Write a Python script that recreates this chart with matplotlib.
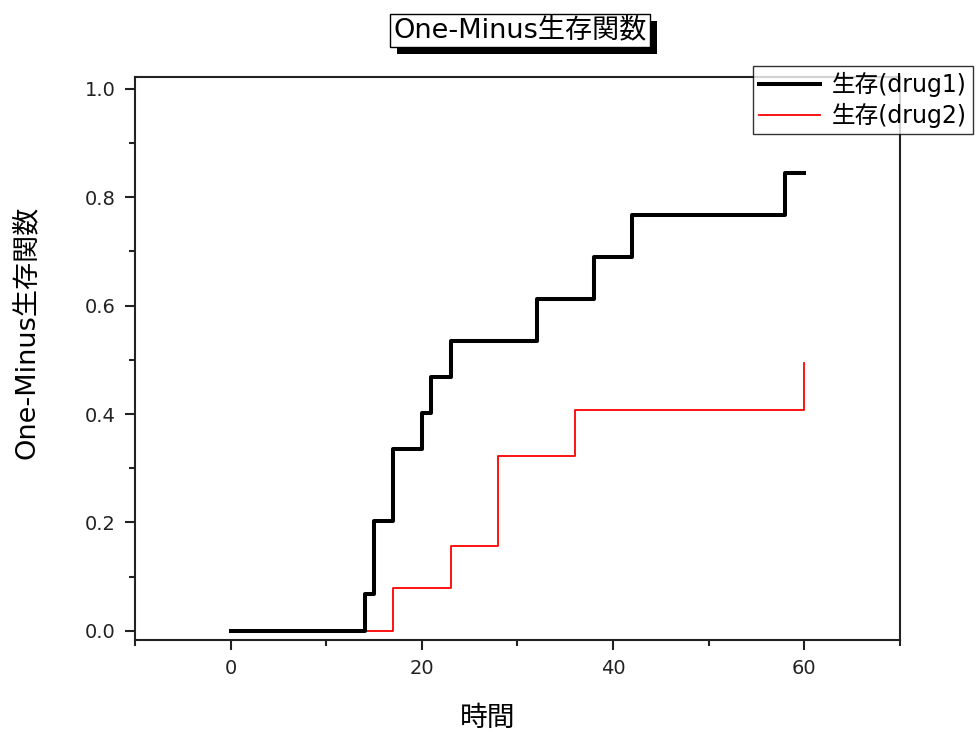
import matplotlib
matplotlib.use("Agg")
import matplotlib.pyplot as plt
import matplotlib.patheffects as pe
from matplotlib import font_manager as fm
from matplotlib.ticker import MultipleLocator

# data
t1 = [0, 14, 15, 17, 20, 21, 23, 32, 38, 42, 58, 60]
s1 = [0.0, 0.068, 0.202, 0.335, 0.402, 0.468, 0.535, 0.612, 0.690, 0.767, 0.845, 0.845]
t2 = [0, 17, 23, 28, 36, 60]
s2 = [0.0, 0.079, 0.156, 0.323, 0.407, 0.494]
labels = ["生存(drug1)", "生存(drug2)"]
title = "One-Minus生存関数"
xlab = "時間"

jp = ["DejaVu Sans", "Noto Sans CJK JP"]
installed = {f.name for f in fm.fontManager.ttflist}
if "Liberation Sans Narrow" in installed:
    tickfont, ticksize = "Liberation Sans Narrow", 16
else:
    tickfont, ticksize = "DejaVu Sans", 14

fig = plt.figure(figsize=(9.79, 7.32), dpi=100)
ax = fig.add_axes([0.1379, 0.1257, 0.7814, 0.7691])

l2, = ax.plot(t2, s2, drawstyle="steps-post", color="red", lw=1.3, zorder=2)
l1, = ax.plot(t1, s1, drawstyle="steps-post", color="black", lw=2.9, zorder=3)

ax.set_xlim(-10, 70)
ax.set_ylim(-0.017, 1.022)
ax.xaxis.set_major_locator(MultipleLocator(20))
ax.xaxis.set_minor_locator(MultipleLocator(10))
ax.yaxis.set_major_locator(MultipleLocator(0.2))
ax.yaxis.set_minor_locator(MultipleLocator(0.1))
ax.yaxis.set_major_formatter(plt.FuncFormatter(lambda v, p: "%.1f" % v))
ax.tick_params(which="major", direction="out", length=7, width=1.5, colors="#222222",
               labelsize=ticksize, pad=7)
ax.tick_params(which="minor", direction="out", length=4, width=1.5, colors="#222222")
for lab in ax.get_xticklabels() + ax.get_yticklabels():
    lab.set_family(tickfont)
for sp in ax.spines.values():
    sp.set_linewidth(1.5)
    sp.set_color("#222222")

ax.set_xlabel(xlab, family=["Noto Sans CJK JP"], fontsize=20)
ax.xaxis.set_label_coords((488 - 135) / 765, -(703 - 640) / 563)
ax.set_ylabel(title, family=jp, fontsize=19.5)
ax.yaxis.set_label_coords(-(135 - 40) / 765, (640 - 332) / 563)

t = fig.text(0.531, 0.958, title, family=jp, fontsize=19.5, ha="center", va="center",
             bbox=dict(boxstyle="square,pad=0.12", fc="white", ec="black", lw=1))
t.get_bbox_patch().set_path_effects([pe.withSimplePatchShadow(offset=(5, -5), shadow_rgbFace="black", alpha=1)])

leg = fig.legend([l1, l2], labels, loc="upper left", bbox_to_anchor=(753 / 979, 1 - 66 / 732),
                 prop={"family": jp, "size": 17}, frameon=True, fancybox=False, edgecolor="black",
                 borderpad=0.25, labelspacing=0.25, handlelength=2.6, handletextpad=0.5, borderaxespad=0)
leg.get_frame().set_linewidth(1)

fig.savefig("out.png", dpi=100)
